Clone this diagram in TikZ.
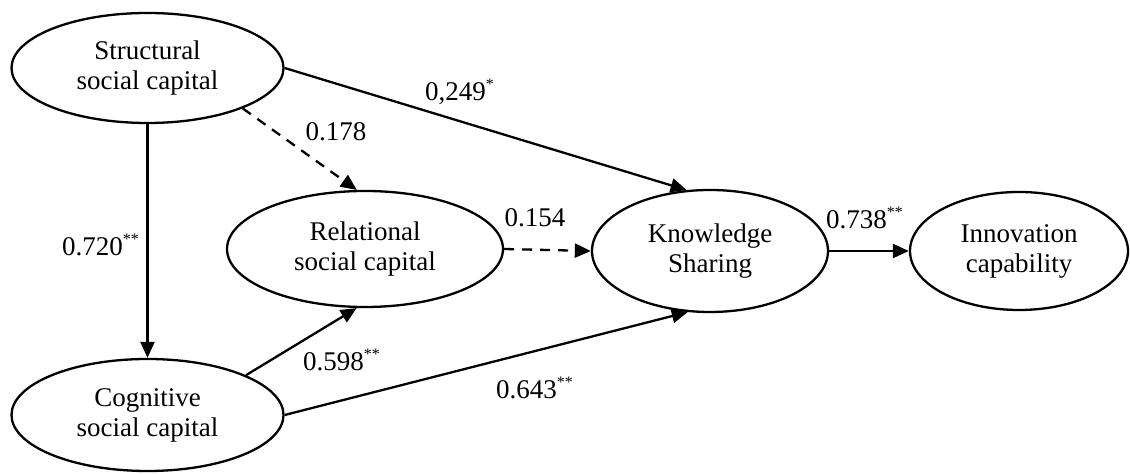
\documentclass[tikz,border=0pt]{standalone}
\usepackage{fontspec}
\setmainfont{Liberation Serif}
\usetikzlibrary{shapes.geometric,arrows.meta}
\newcommand{\sig}[1]{\textsuperscript{\footnotesize #1}}
\begin{document}
\begin{tikzpicture}[x=0.5pt,y=-0.5pt,
  every node/.style={font=\fontsize{13.5}{15}\selectfont},
  construct/.style={ellipse,draw,line width=1.15pt,inner sep=0pt,align=center},
  link/.style={line width=1.15pt,-{Triangle[length=8pt,width=7pt]}},
  dlink/.style={link,dash pattern=on 5pt off 4pt},
  coef/.style={inner sep=1pt}]
\useasboundingbox (0,0) rectangle (1130,474);
\node[construct,minimum width=136pt,minimum height=55pt] (S) at (147.5,68) {Structural\\social capital};
\node[construct,minimum width=136pt,minimum height=56pt] (C) at (147.5,415) {Cognitive\\social capital};
\node[construct,minimum width=138pt,minimum height=58pt] (R) at (365,249) {Relational\\social capital};
\node[construct,minimum width=118pt,minimum height=61pt] (K) at (710,251) {Knowledge\\Sharing};
\node[construct,minimum width=109pt,minimum height=59pt] (I) at (1019,251) {Innovation\\capability};

\draw[link] (S.east) -- (K.111);
\draw[dlink] (S.-23) -- (R.98);
\draw[link] (S.south) -- (C.north);
\draw[dlink] (R.east) -- (K.west);
\draw[link] (K.east) -- (I.west);
\draw[link] (C.22) -- (R.262);
\draw[link] (C.east) -- (K.250);

\node[coef] (l1) at (460,92) {0,249\sig{*}};
\node[coef] (l2) at (336,132) {0.178};
\node[coef] (l3) at (101,245) {0.720\sig{**}};
\node[coef] (l4) at (535,218) {0.154};
\node[coef] (l5) at (865,218) {0.738\sig{**}};
\node[coef] (l6) at (342,360) {0.598\sig{**}};
\node[coef] (l7) at (535,388) {0.643\sig{**}};
\end{tikzpicture}
\end{document}
